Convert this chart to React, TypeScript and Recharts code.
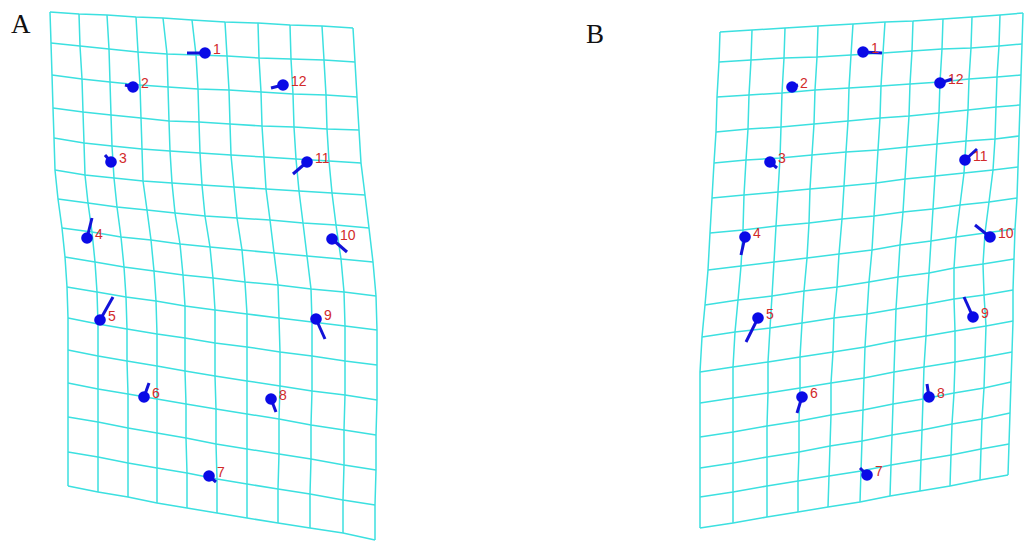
import { Scatter, ScatterChart, XAxis, YAxis } from 'recharts'

type Pt = { x: number; y: number; id?: string }

const GRID = '#3ce0e0'
const VECTOR = '#1212d8'
const DOT = '#0a0ae6'
const LABEL = '#d22a2a'

const landmarkIds = ['1', '2', '3', '4', '5', '6', '7', '8', '9', '10', '11', '12']

// warped grid A: vertex x / y, one row per horizontal grid line
const gridAX = [
  [50, 79, 107, 136, 163, 192, 225, 258, 290, 322, 353],
  [51, 80, 109, 138, 167, 196, 227, 259, 291, 324, 355],
  [52, 82, 110, 140, 168, 198, 229, 261, 293, 326, 357],
  [53, 83, 111, 141, 169, 199, 230, 262, 294, 327, 359],
  [54, 84, 112, 142, 170, 200, 231, 264, 296, 329, 361],
  [55, 85, 114, 143, 172, 202, 234, 266, 299, 332, 365],
  [58, 88, 117, 147, 175, 205, 237, 270, 303, 336, 369],
  [62, 92, 121, 151, 180, 210, 242, 274, 307, 341, 373],
  [65, 95, 124, 154, 183, 213, 245, 278, 311, 344, 376],
  [67, 97, 126, 156, 185, 215, 247, 279, 312, 345, 377],
  [68, 98, 127, 157, 185, 215, 247, 280, 312, 345, 377],
  [68, 98, 127, 157, 185, 215, 247, 280, 312, 345, 377],
  [68, 98, 128, 157, 186, 216, 247, 279, 311, 344, 376],
  [68, 98, 128, 157, 186, 216, 247, 279, 311, 344, 376],
  [68, 98, 128, 157, 187, 217, 247, 278, 310, 343, 375],
  [68, 98, 128, 157, 187, 217, 247, 278, 310, 343, 375],
]
const gridAY = [
  [12, 14, 15, 17, 18, 20, 22, 23, 25, 26, 28],
  [43, 46, 49, 52, 54, 55, 56, 58, 59, 60, 62],
  [75, 79, 82, 85, 87, 89, 90, 92, 94, 95, 97],
  [108, 112, 115, 118, 121, 122, 124, 126, 127, 129, 130],
  [138, 143, 146, 149, 151, 153, 155, 157, 159, 161, 163],
  [170, 175, 178, 181, 183, 185, 187, 189, 191, 193, 195],
  [199, 203, 207, 210, 213, 216, 218, 220, 223, 225, 228],
  [228, 232, 237, 240, 244, 247, 250, 253, 256, 259, 262],
  [257, 262, 267, 271, 275, 278, 282, 285, 289, 292, 296],
  [287, 292, 297, 301, 306, 310, 314, 318, 322, 326, 330],
  [318, 324, 329, 334, 338, 343, 347, 352, 356, 361, 365],
  [350, 356, 361, 366, 371, 376, 381, 386, 391, 395, 400],
  [383, 389, 394, 399, 404, 409, 414, 419, 425, 430, 435],
  [417, 422, 428, 433, 438, 444, 449, 454, 459, 465, 470],
  [452, 457, 463, 468, 473, 479, 484, 489, 494, 500, 505],
  [486, 492, 497, 503, 508, 513, 518, 523, 528, 533, 540],
]

// warped grid B
const gridBX = [
  [720, 752, 785, 818, 853, 885, 913, 943, 972, 1000, 1023],
  [719, 751, 784, 817, 851, 883, 912, 942, 971, 999, 1022],
  [717, 749, 782, 815, 849, 881, 910, 940, 969, 997, 1021],
  [716, 748, 781, 814, 848, 880, 909, 939, 968, 996, 1020],
  [714, 746, 780, 812, 846, 878, 907, 937, 966, 995, 1019],
  [712, 744, 778, 810, 844, 876, 905, 935, 964, 993, 1018],
  [710, 743, 776, 809, 842, 874, 903, 933, 960, 989, 1017],
  [708, 741, 774, 807, 839, 872, 900, 931, 956, 985, 1015],
  [705, 738, 772, 804, 837, 869, 898, 929, 954, 983, 1014],
  [702, 735, 770, 802, 834, 867, 896, 927, 954, 984, 1013],
  [700, 733, 768, 800, 833, 865, 895, 926, 955, 986, 1013],
  [700, 733, 768, 800, 831, 864, 894, 924, 955, 985, 1012],
  [700, 733, 767, 799, 831, 863, 893, 923, 954, 984, 1011],
  [700, 733, 767, 799, 830, 862, 892, 922, 952, 982, 1010],
  [700, 733, 767, 798, 829, 861, 891, 921, 951, 981, 1009],
  [700, 733, 767, 798, 828, 860, 890, 920, 950, 980, 1008],
]
const gridBY = [
  [32, 30, 28, 26, 24, 22, 21, 19, 17, 15, 13],
  [62, 60, 58, 57, 55, 53, 51, 49, 48, 46, 44],
  [97, 95, 93, 90, 88, 86, 84, 82, 79, 77, 75],
  [132, 129, 127, 124, 121, 118, 116, 113, 110, 107, 105],
  [163, 160, 158, 155, 152, 150, 147, 144, 141, 139, 136],
  [198, 195, 192, 189, 186, 183, 179, 176, 173, 170, 167],
  [233, 230, 226, 223, 219, 216, 212, 209, 205, 202, 198],
  [270, 266, 262, 258, 254, 250, 245, 241, 237, 233, 229],
  [305, 300, 296, 291, 287, 282, 277, 273, 268, 264, 259],
  [337, 332, 328, 323, 318, 314, 309, 304, 299, 295, 290],
  [372, 367, 362, 357, 352, 347, 341, 336, 331, 326, 321],
  [403, 398, 393, 388, 383, 378, 372, 367, 362, 357, 352],
  [437, 432, 426, 421, 415, 410, 404, 399, 393, 388, 382],
  [468, 463, 457, 452, 446, 441, 435, 430, 424, 419, 413],
  [497, 492, 486, 481, 476, 471, 465, 460, 455, 449, 444],
  [528, 523, 517, 512, 507, 502, 496, 491, 486, 480, 475],
]

// landmarks (in id order) and the tips of their displacement vectors
const landmarksA = [
  [205, 53], [133, 87], [111, 162], [87, 238], [100, 320], [144, 397],
  [209, 476], [271, 399], [316, 319], [332, 239], [307, 162], [283, 85],
]
const vectorTipsA = [
  [187, 53], [125, 85], [105, 155], [92, 218], [113, 297], [149, 383],
  [216, 482], [276, 412], [325, 339], [347, 252], [293, 174], [271, 88],
]
const landmarksB = [
  [863, 52], [792, 87], [770, 162], [745, 237], [758, 318], [802, 397],
  [867, 475], [929, 397], [973, 317], [990, 237], [965, 160], [940, 83],
]
const vectorTipsB = [
  [882, 53], [798, 85], [777, 168], [741, 255], [746, 342], [797, 413],
  [860, 468], [927, 384], [964, 297], [975, 225], [977, 149], [952, 79],
]

const gridLines = (gx: number[][], gy: number[][]): Pt[][] => {
  const rows = gx.map((r, i) => r.map((x, j) => ({ x, y: gy[i][j] })))
  const cols = gx[0].map((_, j) => gx.map((r, i) => ({ x: r[j], y: gy[i][j] })))
  return [...rows, ...cols]
}

const vectors = (dots: number[][], tips: number[][]): Pt[][] =>
  dots.map(([x, y], k) => [{ x, y }, { x: tips[k][0], y: tips[k][1] }])

const labelled = (dots: number[][]): Pt[] =>
  dots.map(([x, y], k) => ({ x, y, id: landmarkIds[k] }))

const allGridLines = [...gridLines(gridAX, gridAY), ...gridLines(gridBX, gridBY)]
const allVectors = [...vectors(landmarksA, vectorTipsA), ...vectors(landmarksB, vectorTipsB)]
const allLandmarks = [...labelled(landmarksA), ...labelled(landmarksB)]

const NoShape = () => <g />

const LandmarkDot = (props: any) => {
  const { cx, cy, payload } = props
  return (
    <g>
      <circle cx={cx} cy={cy} r={5.8} fill={DOT} />
      <text
        x={cx + 8}
        y={cy + 1}
        fill={LABEL}
        fontSize={14}
        fontFamily="'Liberation Sans', Arial, sans-serif"
      >
        {payload.id}
      </text>
    </g>
  )
}

export default function App() {
  return (
    <div style={{ position: 'absolute', left: 0, top: 0, width: 1024, height: 542, background: '#fff' }}>
      <ScatterChart width={1024} height={542} margin={{ top: 0, right: 0, bottom: 0, left: 0 }}>
        <XAxis type="number" dataKey="x" domain={[0, 1024]} allowDataOverflow hide />
        <YAxis type="number" dataKey="y" domain={[0, 542]} allowDataOverflow reversed hide />
        {allGridLines.map((pts, k) => (
          <Scatter
            key={`g${k}`}
            data={pts}
            line={{ stroke: GRID, strokeWidth: 1.5 }}
            shape={NoShape}
            isAnimationActive={false}
          />
        ))}
        {allVectors.map((pts, k) => (
          <Scatter
            key={`v${k}`}
            data={pts}
            line={{ stroke: VECTOR, strokeWidth: 3 }}
            shape={NoShape}
            isAnimationActive={false}
          />
        ))}
        <Scatter data={allLandmarks} shape={LandmarkDot} isAnimationActive={false} />
      </ScatterChart>
      <svg width={1024} height={542} style={{ position: 'absolute', left: 0, top: 0, pointerEvents: 'none' }}>
        <text x={11} y={33} fontSize={27} fontFamily="'Liberation Serif', 'Times New Roman', serif" fill="#111">
          A
        </text>
        <text x={586} y={43} fontSize={27} fontFamily="'Liberation Serif', 'Times New Roman', serif" fill="#111">
          B
        </text>
      </svg>
    </div>
  )
}
